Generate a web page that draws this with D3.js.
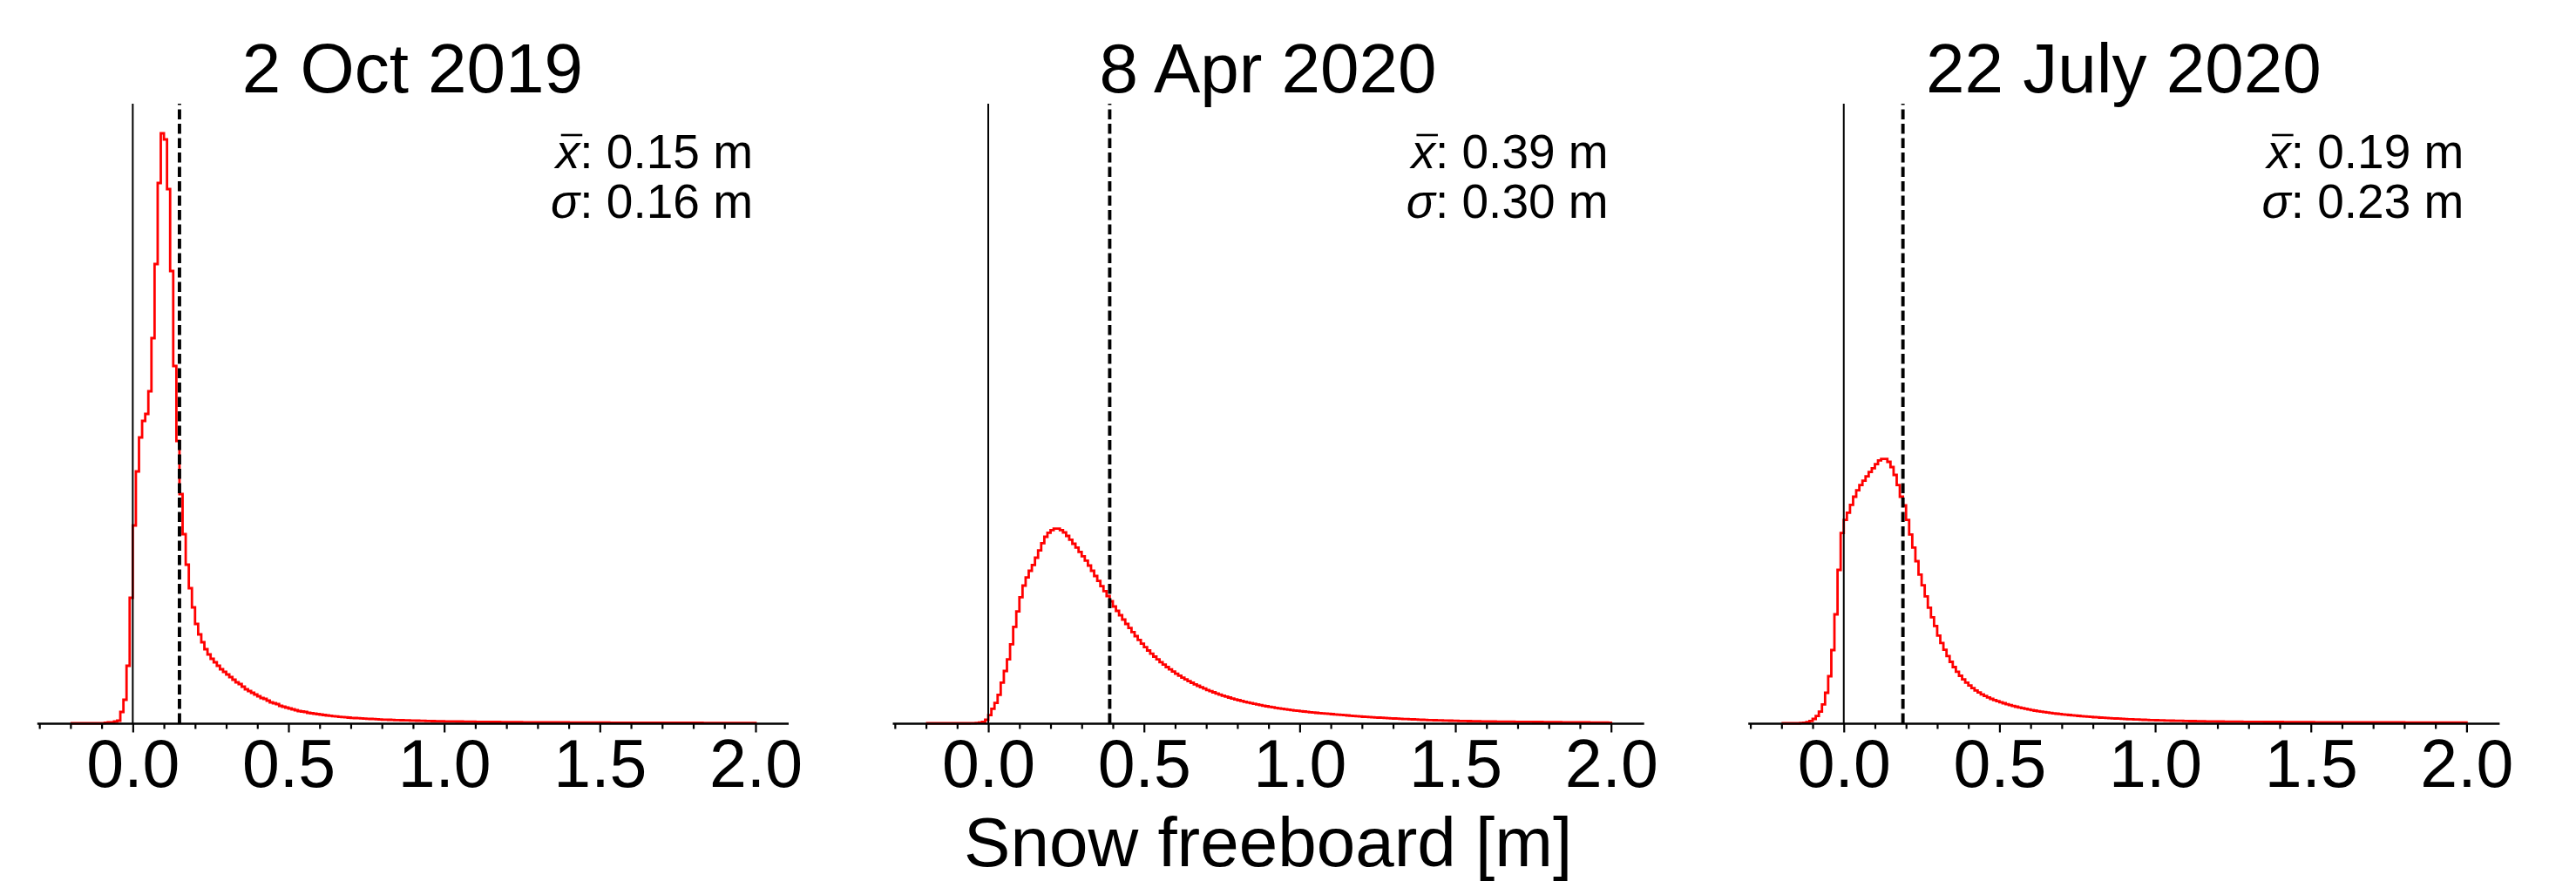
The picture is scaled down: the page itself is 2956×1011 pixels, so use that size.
<!DOCTYPE html>
<html>
<head>
<meta charset="utf-8">
<script src="https://cdn.jsdelivr.net/npm/d3@7"></script>
<style>
  body { margin: 0; background: #fff; }
  text { font-family: "Liberation Sans", Arial, sans-serif; fill: #000; }
</style>
</head>
<body>
<svg id="chart"></svg>
<script>
// Snow freeboard histograms, three dates, shared y (density)

const TITLES = ['2 Oct 2019', '8 Apr 2020', '22 July 2020'];
const MEANS  = [0.15, 0.39, 0.19];
const STDS   = [0.16, 0.30, 0.23];
const X_LABEL = 'Snow freeboard [m]';

const MAJOR_TICKS = [0.0, 0.5, 1.0, 1.5, 2.0];
const MINOR_TICKS = [-0.3, -0.2, -0.1, 0.1, 0.2, 0.3, 0.4, 0.6, 0.7, 0.8, 0.9,
                     1.1, 1.2, 1.3, 1.4, 1.6, 1.7, 1.8, 1.9];

// bins of 0.01 m starting at -0.20 m (220 bins, to 2.00 m)
const BIN_START = -0.2;
const BIN_WIDTH = 0.01;

const OCT_2019 = [
  0, 0, 0, 0, 0, 0, 0, 0, 0, 0,                                             // -0.20
  0.002, 0.005, 0.01, 0.01, 0.02, 0.03, 0.13, 0.27, 0.66, 1.44,             // -0.10
  2.27, 2.89, 3.28, 3.47, 3.55, 3.81, 4.42, 5.27, 6.20, 6.77,               // 0.00
  6.70, 6.13, 5.19, 4.10, 3.24, 2.63, 2.17, 1.82, 1.55, 1.33,               // 0.10
  1.14, 1.02, 0.93, 0.85, 0.79, 0.74, 0.70, 0.66, 0.62, 0.59,               // 0.20
  0.56, 0.53, 0.50, 0.47, 0.45, 0.42, 0.39, 0.37, 0.35, 0.33,               // 0.30
  0.31, 0.29, 0.28, 0.26, 0.24, 0.23, 0.22, 0.20, 0.19, 0.18,               // 0.40
  0.17, 0.16, 0.15, 0.14, 0.135, 0.13, 0.12, 0.115, 0.11, 0.105,            // 0.50
  0.10, 0.095, 0.090, 0.086, 0.082, 0.078, 0.074, 0.071, 0.068, 0.065,      // 0.60
  0.062, 0.060, 0.058, 0.056, 0.054, 0.052, 0.050, 0.048, 0.046, 0.044,     // 0.70
  0.042, 0.041, 0.040, 0.038, 0.037, 0.036, 0.035, 0.034, 0.033, 0.032,     // 0.80
  0.031, 0.030, 0.029, 0.028, 0.027, 0.026, 0.025, 0.024, 0.024, 0.023,     // 0.90
  0.022, 0.022, 0.021, 0.021, 0.020, 0.020, 0.019, 0.019, 0.018, 0.018,     // 1.00
  0.017, 0.017, 0.016, 0.016, 0.016, 0.015, 0.015, 0.015, 0.014, 0.014,     // 1.10
  0.014, 0.013, 0.013, 0.013, 0.013, 0.012, 0.012, 0.012, 0.012, 0.012,     // 1.20
  0.011, 0.011, 0.011, 0.011, 0.011, 0.010, 0.010, 0.010, 0.010, 0.010,     // 1.30
  0.009, 0.009, 0.009, 0.009, 0.009, 0.008, 0.008, 0.008, 0.008, 0.008,     // 1.40
  0.008, 0.008, 0.008, 0.007, 0.007, 0.007, 0.007, 0.007, 0.007, 0.007,     // 1.50
  0.007, 0.007, 0.007, 0.006, 0.006, 0.006, 0.006, 0.006, 0.006, 0.006,     // 1.60
  0.006, 0.006, 0.006, 0.005, 0.005, 0.005, 0.005, 0.005, 0.005, 0.005,     // 1.70
  0.005, 0.005, 0.005, 0.004, 0.004, 0.004, 0.004, 0.004, 0.004, 0.004,     // 1.80
  0.004, 0.004, 0.004, 0.003, 0.003, 0.003, 0.003, 0.003, 0.003, 0.003      // 1.90
];

const APR_2020 = [
  0, 0, 0, 0, 0, 0, 0, 0, 0, 0,                                             // -0.20
  0, 0, 0, 0, 0.001, 0.002, 0.004, 0.008, 0.015, 0.04,                      // -0.10
  0.093, 0.167, 0.233, 0.327, 0.467, 0.60, 0.733, 0.907, 1.107, 1.283,      // 0.00
  1.447, 1.58, 1.673, 1.75, 1.817, 1.90, 1.983, 2.067, 2.14, 2.187,         // 0.10
  2.217, 2.233, 2.233, 2.217, 2.19, 2.15, 2.107, 2.06, 2.017, 1.967,        // 0.20
  1.917, 1.867, 1.81, 1.75, 1.69, 1.633, 1.573, 1.517, 1.46, 1.40,          // 0.30
  1.34, 1.29, 1.24, 1.19, 1.14, 1.093, 1.047, 1.00, 0.957, 0.913,           // 0.40
  0.873, 0.835, 0.799, 0.765, 0.733, 0.702, 0.673, 0.645, 0.619, 0.593,     // 0.50
  0.569, 0.546, 0.524, 0.504, 0.484, 0.465, 0.447, 0.430, 0.413, 0.398,     // 0.60
  0.382, 0.368, 0.355, 0.341, 0.329, 0.317, 0.306, 0.295, 0.284, 0.274,     // 0.70
  0.265, 0.256, 0.247, 0.239, 0.231, 0.223, 0.216, 0.208, 0.202, 0.195,     // 0.80
  0.189, 0.183, 0.177, 0.172, 0.167, 0.161, 0.157, 0.152, 0.147, 0.143,     // 0.90
  0.139, 0.135, 0.131, 0.127, 0.124, 0.120, 0.117, 0.114, 0.111, 0.108,     // 1.00
  0.105, 0.102, 0.099, 0.096, 0.093, 0.090, 0.087, 0.084, 0.081, 0.078,     // 1.10
  0.075, 0.073, 0.071, 0.069, 0.067, 0.065, 0.063, 0.061, 0.059, 0.057,     // 1.20
  0.055, 0.053, 0.051, 0.049, 0.048, 0.046, 0.045, 0.043, 0.042, 0.040,     // 1.30
  0.039, 0.037, 0.036, 0.035, 0.034, 0.033, 0.032, 0.031, 0.030, 0.029,     // 1.40
  0.028, 0.027, 0.026, 0.026, 0.025, 0.024, 0.024, 0.023, 0.022, 0.022,     // 1.50
  0.021, 0.020, 0.020, 0.019, 0.019, 0.019, 0.018, 0.018, 0.018, 0.017,     // 1.60
  0.017, 0.017, 0.016, 0.016, 0.016, 0.015, 0.015, 0.015, 0.014, 0.014,     // 1.70
  0.014, 0.013, 0.013, 0.013, 0.012, 0.012, 0.012, 0.011, 0.011, 0.011,     // 1.80
  0.010, 0.010, 0.010, 0.009, 0.009, 0.009, 0.008, 0.008, 0.008, 0.007      // 1.90
];

const JUL_2020 = [
  0, 0, 0, 0, 0, 0, 0.003, 0.006, 0.013, 0.027,                             // -0.20
  0.05, 0.083, 0.133, 0.217, 0.35, 0.54, 0.84, 1.25, 1.76, 2.183,           // -0.10
  2.333, 2.417, 2.507, 2.60, 2.673, 2.733, 2.783, 2.833, 2.883, 2.927,      // 0.00
  2.973, 3.017, 3.033, 3.033, 3.00, 2.94, 2.85, 2.733, 2.60, 2.50,          // 0.10
  2.333, 2.167, 2.017, 1.86, 1.707, 1.583, 1.457, 1.327, 1.217, 1.117,      // 0.20
  1.007, 0.921, 0.843, 0.771, 0.705, 0.645, 0.592, 0.545, 0.503, 0.466,     // 0.30
  0.433, 0.403, 0.376, 0.353, 0.332, 0.313, 0.296, 0.280, 0.267, 0.254,     // 0.40
  0.241, 0.230, 0.219, 0.209, 0.199, 0.190, 0.182, 0.174, 0.166, 0.159,     // 0.50
  0.152, 0.145, 0.139, 0.133, 0.128, 0.123, 0.118, 0.114, 0.110, 0.106,     // 0.60
  0.102, 0.098, 0.095, 0.091, 0.088, 0.085, 0.082, 0.079, 0.076, 0.073,     // 0.70
  0.070, 0.068, 0.065, 0.063, 0.061, 0.059, 0.057, 0.055, 0.053, 0.051,     // 0.80
  0.049, 0.047, 0.046, 0.044, 0.043, 0.041, 0.040, 0.038, 0.037, 0.036,     // 0.90
  0.035, 0.034, 0.033, 0.032, 0.031, 0.030, 0.029, 0.028, 0.028, 0.027,     // 1.00
  0.026, 0.025, 0.025, 0.024, 0.023, 0.023, 0.022, 0.022, 0.021, 0.021,     // 1.10
  0.020, 0.020, 0.019, 0.019, 0.019, 0.018, 0.018, 0.018, 0.017, 0.017,     // 1.20
  0.017, 0.016, 0.016, 0.016, 0.016, 0.015, 0.015, 0.015, 0.015, 0.015,     // 1.30
  0.015, 0.014, 0.014, 0.014, 0.014, 0.014, 0.013, 0.013, 0.013, 0.013,     // 1.40
  0.013, 0.012, 0.012, 0.012, 0.012, 0.012, 0.012, 0.012, 0.012, 0.012,     // 1.50
  0.012, 0.011, 0.011, 0.011, 0.011, 0.011, 0.011, 0.011, 0.011, 0.011,     // 1.60
  0.011, 0.010, 0.010, 0.010, 0.010, 0.010, 0.010, 0.010, 0.010, 0.010,     // 1.70
  0.009, 0.009, 0.009, 0.009, 0.009, 0.009, 0.009, 0.009, 0.009, 0.009,     // 1.80
  0.008, 0.008, 0.008, 0.008, 0.008, 0.008, 0.008, 0.008, 0.008, 0.008      // 1.90
];

const SERIES = [OCT_2019, APR_2020, JUL_2020];

// ---- layout ----
const W = 2956, H = 1011;
const PANEL_LEFT = [42.3, 1024, 2005.7];
const PANEL_W = 862.2;
const AX_TOP = 119, AX_BOTTOM = 830;
const X_LIM = [-0.308, 2.105];
const Y_LIM = [0, 7.11];
const FONT = '"Liberation Sans", Arial, sans-serif';
const ANN_SIZE = 55;

const svg = d3.select('#chart').attr('width', W).attr('height', H);
svg.append('rect').attr('width', W).attr('height', H).attr('fill', '#fff');

SERIES.forEach((vals, i) => {
  const x = d3.scaleLinear().domain(X_LIM).range([PANEL_LEFT[i], PANEL_LEFT[i] + PANEL_W]);
  const y = d3.scaleLinear().domain(Y_LIM).range([AX_BOTTOM, AX_TOP]);
  const g = svg.append('g');
  const edges = d3.range(vals.length + 1).map(k => BIN_START + k * BIN_WIDTH);

  // step outline, like hist(histtype='step')
  const pts = [[edges[0], 0]];
  vals.forEach((v, k) => { pts.push([edges[k], v], [edges[k + 1], v]); });
  pts.push([edges[vals.length], 0]);
  g.append('path')
    .attr('d', d3.line().x(d => x(d[0])).y(d => y(d[1]))(pts))
    .attr('fill', 'none')
    .attr('stroke', '#ff0000')
    .attr('stroke-width', 2.8);

  // zero line and mean line
  g.append('line')
    .attr('x1', x(0)).attr('x2', x(0))
    .attr('y1', y.range()[0]).attr('y2', y.range()[1])
    .attr('stroke', '#000').attr('stroke-width', 2);
  g.append('line')
    .attr('x1', x(MEANS[i])).attr('x2', x(MEANS[i]))
    .attr('y1', y.range()[0]).attr('y2', y.range()[1])
    .attr('stroke', '#000').attr('stroke-width', 3.9)
    .attr('stroke-dasharray', '11.5,5');

  // bottom axis: minor then major ticks
  const minorG = g.append('g')
    .attr('transform', `translate(0,${AX_BOTTOM})`)
    .call(d3.axisBottom(x).tickValues(MINOR_TICKS).tickSize(6.5).tickSizeOuter(0).tickFormat(''));
  minorG.select('.domain').remove();
  minorG.selectAll('.tick line').attr('stroke-width', 2.2);

  const majorG = g.append('g')
    .attr('transform', `translate(0,${AX_BOTTOM})`)
    .call(d3.axisBottom(x).tickValues(MAJOR_TICKS).tickSize(10.5).tickSizeOuter(0)
      .tickPadding(7.5).tickFormat(d3.format('.1f')));
  majorG.attr('font-size', null).attr('font-family', null);
  majorG.select('.domain').attr('stroke-width', 2.5);
  majorG.selectAll('.tick line').attr('stroke-width', 2.2);
  majorG.selectAll('.tick text')
    .attr('font-size', 77).attr('font-family', FONT).attr('fill', '#000');

  // title
  g.append('text')
    .attr('x', (x.range()[0] + x.range()[1]) / 2)
    .attr('y', 106)
    .attr('text-anchor', 'middle')
    .attr('font-size', 80)
    .text(TITLES[i]);

  // mean / std annotation
  const annX = x.range()[0] + 0.953 * PANEL_W;
  const t1 = g.append('text')
    .attr('x', annX).attr('y', 193)
    .attr('text-anchor', 'end').attr('font-size', ANN_SIZE);
  t1.append('tspan').attr('font-style', 'italic').text('x');
  t1.append('tspan').text(`: ${MEANS[i].toFixed(2)} m`);

  const node = t1.node();
  const xs = node.getStartPositionOfChar(0).x;
  const xe = node.getEndPositionOfChar(0).x;
  g.append('line')
    .attr('x1', xs + 6).attr('x2', xe + 3)
    .attr('y1', 193 - 38).attr('y2', 193 - 38)
    .attr('stroke', '#000').attr('stroke-width', 2.6);

  const t2 = g.append('text')
    .attr('x', annX).attr('y', 250)
    .attr('text-anchor', 'end').attr('font-size', ANN_SIZE);
  t2.append('tspan').attr('font-style', 'italic').text('\u03c3');
  t2.append('tspan').text(`: ${STDS[i].toFixed(2)} m`);

  if (i === 1) {
    g.append('text')
      .attr('x', (x.range()[0] + x.range()[1]) / 2)
      .attr('y', 994)
      .attr('text-anchor', 'middle')
      .attr('font-size', 80)
      .text(X_LABEL);
  }
});
</script>
</body>
</html>
